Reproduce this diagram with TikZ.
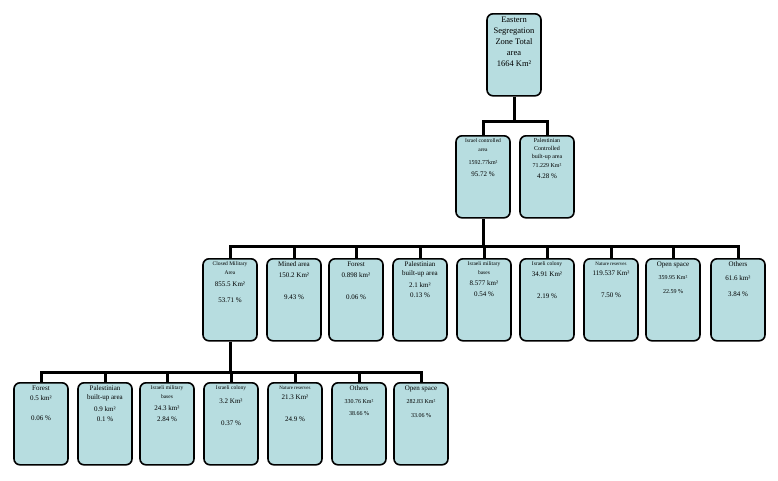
\documentclass[tikz,border=0pt]{standalone}
\usepackage{fontspec}
\setmainfont{Liberation Serif}
\usetikzlibrary{positioning}

\definecolor{boxfill}{RGB}{183,221,224}
\tikzset{
  box/.style={draw,line width=1.6pt,rounded corners=6pt,fill=boxfill,
    inner sep=0pt,minimum width=54pt,minimum height=82pt},
  conn/.style={line width=3pt}
}
\newcommand{\boxtext}[1]{\parbox[t][76pt][t]{44pt}{\centering\fontsize{7}{9}\selectfont #1}}

\begin{document}
\begin{tikzpicture}[x=1pt,y=-1pt]
\useasboundingbox (0,0) rectangle (778,480);
\fill[white] (0,0) rectangle (778,480);
% top
\node[box,anchor=north] (root) at (514,13) {\boxtext{\fontsize{8.5}{11}\selectfont Eastern Segregation Zone Total area\\1664 Km²}};
% level 1
\node[box,anchor=north] (isr) at (483,135) {\boxtext{{\fontsize{5.5}{7}\selectfont Israel controlled area}\\[4pt]{\fontsize{6}{8}\selectfont 1592.77km²}\\[3pt]95.72 \%}};
\node[box,anchor=north] (pal) at (547,135) {\boxtext{{\fontsize{6}{8}\selectfont Palestinian Controlled built-up area\\71.229 Km²}\\[2pt]4.28 \%}};
% level 2
\node[box,anchor=north] (cma) at (230,258) {\boxtext{{\fontsize{5.5}{7}\selectfont Closed Military Area}\\[3pt]855.5 Km²\\[7pt]53.71 \%}};
\node[box,anchor=north] (mined) at (294,258) {\boxtext{Mined area\\[2pt]150.2 Km²\\[13pt]9.43 \%}};
\node[box,anchor=north] (forA) at (356,258) {\boxtext{Forest\\[2pt]0.898 km²\\[13pt]0.06 \%}};
\node[box,anchor=north] (palA) at (420,258) {\boxtext{Palestinian built-up area\\[3pt]2.1 km²\\[1pt]0.13 \%}};
\node[box,anchor=north] (milA) at (484,258) {\boxtext{{\fontsize{5.5}{7}\selectfont Israeli military bases}\\[2pt]8.577 km²\\[2pt]0.54 \%}};
\node[box,anchor=north] (colA) at (547,258) {\boxtext{{\fontsize{5.5}{7}\selectfont Israeli colony}\\[2pt]34.91 Km²\\[13pt]2.19 \%}};
\node[box,anchor=north] (natA) at (611,258) {\boxtext{{\fontsize{5}{7}\selectfont Nature reserves}\\[1pt]119.537 Km²\\[13pt]7.50 \%}};
\node[box,anchor=north] (openA) at (673,258) {\boxtext{Open space\\[4pt]{\fontsize{6}{8}\selectfont 359.95 Km²}\\[5pt]{\fontsize{6}{8}\selectfont 22.59 \%}}};
\node[box,anchor=north] (othA) at (738,258) {\boxtext{Others\\[5pt]61.6 km²\\[7pt]3.84 \%}};
% level 3
\node[box,anchor=north] (forB) at (41,382) {\boxtext{Forest\\[1pt]0.5 km²\\[11pt]0.06 \%}};
\node[box,anchor=north] (palB) at (105,382) {\boxtext{Palestinian built-up area\\[3pt]0.9 km²\\[1pt]0.1 \%}};
\node[box,anchor=north] (milB) at (167,382) {\boxtext{{\fontsize{5.5}{7}\selectfont Israeli military bases}\\[3pt]24.3 km²\\[2pt]2.84 \%}};
\node[box,anchor=north] (colB) at (231,382) {\boxtext{{\fontsize{5.5}{7}\selectfont Israeli colony}\\[5pt]3.2 Km²\\[13pt]0.37 \%}};
\node[box,anchor=north] (natB) at (295,382) {\boxtext{{\fontsize{5}{7}\selectfont Nature reserves}\\[1pt]21.3 Km²\\[13pt]24.9 \%}};
\node[box,anchor=north] (othB) at (359,382) {\boxtext{Others\\[4pt]{\fontsize{6}{8}\selectfont 330.76 Km²}\\[3pt]{\fontsize{6}{8}\selectfont 38.66 \%}}};
\node[box,anchor=north] (openB) at (421,382) {\boxtext{Open space\\[4pt]{\fontsize{6}{8}\selectfont 282.83 Km²}\\[5pt]{\fontsize{6}{8}\selectfont 33.06 \%}}};
% connectors
\draw[conn] (root.south) -- ++(0,25) coordinate (j1) -| (isr.north);
\draw[conn] (j1) -| (pal.north);
\draw[conn] (isr.south) -- ++(0,28) coordinate (j2);
\foreach \n in {cma,mined,forA,palA,milA,colA,natA,openA,othA}
  \draw[conn] (j2) -| (\n.north);
\draw[conn] (cma.south) -- ++(0,31) coordinate (j3);
\foreach \n in {forB,palB,milB,colB,natB,othB,openB}
  \draw[conn] (j3) -| (\n.north);
\end{tikzpicture}
\end{document}
